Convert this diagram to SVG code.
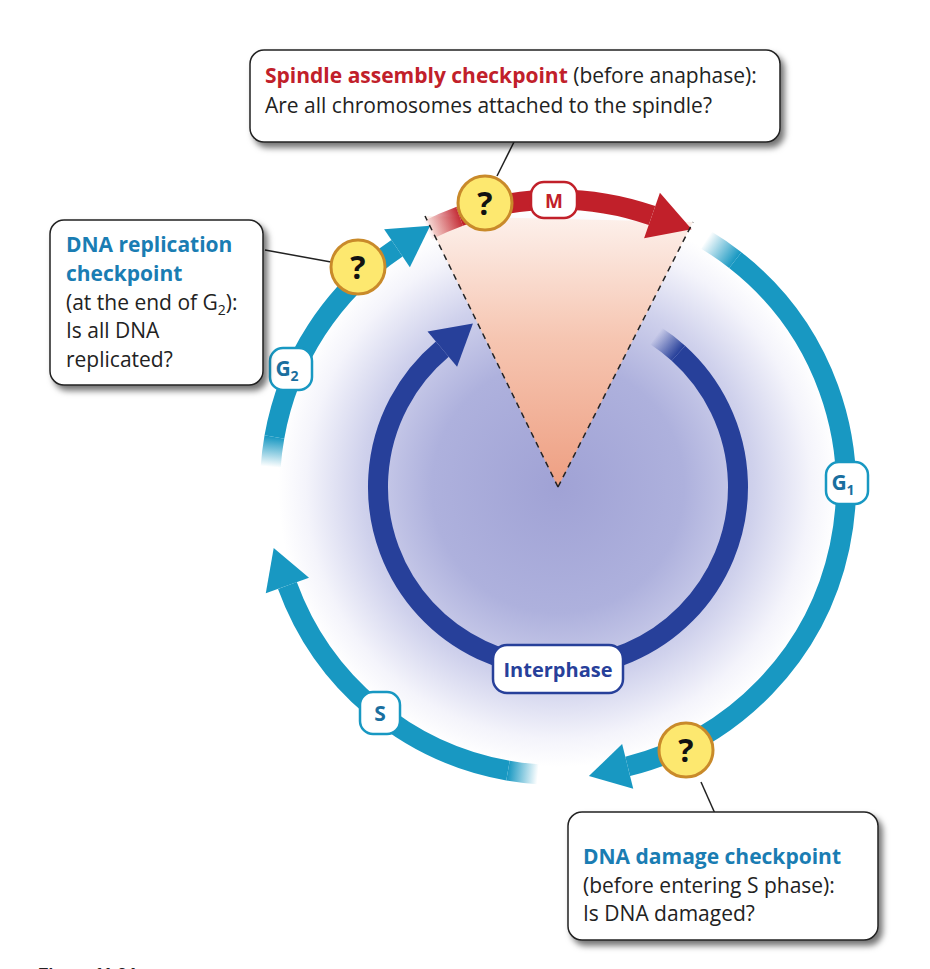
<svg xmlns="http://www.w3.org/2000/svg" width="930" height="969" viewBox="0 0 930 969">
<style>
text{font-family:"Open Sans","Liberation Sans",sans-serif;}
.t{font-size:21px;fill:#222;}
.b{font-weight:bold;}
.callout{fill:#fff;stroke:#222;stroke-width:1.5;filter:url(#sh);}
.lead{stroke:#222;stroke-width:1.5;fill:none;}
.q{fill:#fde86f;stroke:#c98a2a;stroke-width:3;}
.qt{font-size:32px;font-weight:bold;fill:#111;text-anchor:middle;}
.teal{fill:none;stroke:#1898c2;stroke-width:20;}
.lab{fill:#fff;stroke-width:2.5;}
</style>
<defs>
<filter id="sh" x="-10%" y="-10%" width="130%" height="140%"><feDropShadow dx="4" dy="5" stdDeviation="3" flood-opacity="0.55"/></filter>
<radialGradient id="bg" cx="558" cy="487" r="280" gradientUnits="userSpaceOnUse">
<stop offset="0" stop-color="#a0a2d5"/><stop offset="0.45" stop-color="#aeb1dd"/><stop offset="0.7" stop-color="#cfd1ec"/><stop offset="0.9" stop-color="#f4f4fb"/><stop offset="1" stop-color="#fff"/></radialGradient>
<linearGradient id="wedge" x1="0" y1="215" x2="0" y2="487" gradientUnits="userSpaceOnUse">
<stop offset="0" stop-color="#fdf1ec"/><stop offset="0.45" stop-color="#f6c6b2"/><stop offset="1" stop-color="#ee9f82"/></linearGradient>
<linearGradient id="fM" x1="427" y1="230" x2="462" y2="216" gradientUnits="userSpaceOnUse"><stop offset="0" stop-color="#c1202a" stop-opacity="0"/><stop offset="1" stop-color="#c1202a"/></linearGradient>
<linearGradient id="fG1" x1="706" y1="240" x2="735" y2="260" gradientUnits="userSpaceOnUse"><stop offset="0" stop-color="#1898c2" stop-opacity="0"/><stop offset="1" stop-color="#1898c2"/></linearGradient>
<linearGradient id="fS" x1="538" y1="774" x2="508" y2="771" gradientUnits="userSpaceOnUse"><stop offset="0" stop-color="#1898c2" stop-opacity="0"/><stop offset="1" stop-color="#1898c2"/></linearGradient>
<linearGradient id="fG2" x1="271" y1="467" x2="274" y2="437" gradientUnits="userSpaceOnUse"><stop offset="0" stop-color="#1898c2" stop-opacity="0"/><stop offset="1" stop-color="#1898c2"/></linearGradient>
<linearGradient id="fI" x1="656" y1="336" x2="678" y2="353" gradientUnits="userSpaceOnUse"><stop offset="0" stop-color="#27409a" stop-opacity="0"/><stop offset="1" stop-color="#27409a"/></linearGradient>
<marker id="aT" markerUnits="userSpaceOnUse" markerWidth="50" markerHeight="50" refX="0" refY="23" orient="auto" overflow="visible"><path d="M0,0 L40,23 L0,46 Z" fill="#1898c2"/></marker>
<marker id="aR" markerUnits="userSpaceOnUse" markerWidth="50" markerHeight="50" refX="0" refY="24" orient="auto" overflow="visible"><path d="M0,0 L42,24 L0,48 Z" fill="#c1202a"/></marker>
<marker id="aB" markerUnits="userSpaceOnUse" markerWidth="50" markerHeight="50" refX="0" refY="23" orient="auto" overflow="visible"><path d="M0,0 L40,23 L0,46 Z" fill="#27409a"/></marker>
</defs>
<rect width="930" height="969" fill="#fff"/>
<circle cx="558" cy="487" r="280" fill="url(#bg)"/>
<g id="wedge-region">
<polygon points="558,487 425,216 693,222" fill="url(#wedge)"/>
</g>
<g id="connectors">
<path d="M427.3,230.4 A288,288 0 0 1 459.5,216.4" fill="none" stroke="url(#fM)" stroke-width="20"/>
<path d="M459.5,216.4 A288,288 0 0 1 652,215.5" fill="none" stroke="#c1202a" stroke-width="20" marker-end="url(#aR)"/>
<path d="M706.3,240.1 A288,288 0 0 1 735.3,260.1" fill="none" stroke="url(#fG1)" stroke-width="20"/>
<path d="M735.3,260.1 A288,288 0 0 1 627.7,766.4" class="teal" marker-end="url(#aT)"/>
<path d="M537.9,774.3 A288,288 0 0 1 508,770.6" fill="none" stroke="url(#fS)" stroke-width="20"/>
<path d="M508,770.6 A288,288 0 0 1 287.4,585.5" class="teal" marker-end="url(#aT)"/>
<path d="M270.7,466.9 A288,288 0 0 1 274.4,437" fill="none" stroke="url(#fG2)" stroke-width="20"/>
<path d="M274.4,437 A288,288 0 0 1 397,248.2" class="teal" marker-end="url(#aT)"/>
<path d="M656,336 A180,180 0 0 1 678.4,353.2" fill="none" stroke="url(#fI)" stroke-width="20"/>
<path d="M678.4,353.2 A180,180 0 1 1 442.3,349.1" fill="none" stroke="#27409a" stroke-width="20" marker-end="url(#aB)"/>
<path d="M558,487 L425,216 M558,487 L693,222" stroke="#222" stroke-width="1.5" stroke-dasharray="6,5" fill="none"/>
<path class="lead" d="M515,140 L497,176"/>
<path class="lead" d="M265,250 L331,262"/>
<path class="lead" d="M701,782 L717,818"/>
</g>
<g id="label-M"><rect x="531" y="182" width="46" height="36" rx="13" class="lab" stroke="#c1202a"/><text x="554" y="208" text-anchor="middle" font-size="19" font-weight="bold" fill="#c1202a">M</text></g>
<g id="label-G1"><rect x="826" y="462" width="42" height="42" rx="13" class="lab" stroke="#1898c2"/><text x="843" y="490" text-anchor="middle" font-size="21" font-weight="bold" fill="#1a6f9f">G<tspan font-size="14" dy="5">1</tspan></text></g>
<g id="label-G2"><rect x="270" y="348" width="42" height="42" rx="13" class="lab" stroke="#1898c2"/><text x="287" y="376" text-anchor="middle" font-size="21" font-weight="bold" fill="#1a6f9f">G<tspan font-size="14" dy="5">2</tspan></text></g>
<g id="label-S"><rect x="360" y="692" width="40" height="42" rx="13" class="lab" stroke="#1898c2"/><text x="380" y="721" text-anchor="middle" font-size="21" font-weight="bold" fill="#1a6f9f">S</text></g>
<g id="label-interphase"><rect x="493" y="645" width="130" height="48" rx="14" class="lab" stroke="#27409a"/><text x="558" y="677" text-anchor="middle" font-size="20" font-weight="bold" fill="#27409a">Interphase</text></g>
<g id="q-spindle"><circle cx="485" cy="203" r="27" class="q"/><text x="485" y="215" class="qt">?</text></g>
<g id="q-replication"><circle cx="358" cy="267" r="27" class="q"/><text x="358" y="279" class="qt">?</text></g>
<g id="q-damage"><circle cx="686" cy="750" r="27" class="q"/><text x="686" y="762" class="qt">?</text></g>
<g id="callout-spindle">
<rect x="250" y="50" width="530" height="92" rx="14" class="callout"/>
<text x="265" y="83" class="t"><tspan class="b" fill="#c1202a">Spindle assembly checkpoint</tspan> (before anaphase):</text>
<text x="265" y="113" class="t">Are all chromosomes attached to the spindle?</text>
</g>
<g id="callout-replication">
<rect x="50" y="220" width="213" height="165" rx="14" class="callout"/>
<text x="66" y="252" class="t b" style="fill:#1a7db3">DNA replication</text>
<text x="66" y="281" class="t b" style="fill:#1a7db3">checkpoint</text>
<text x="66" y="310" class="t">(at the end of G<tspan font-size="14" dy="5">2</tspan><tspan dy="-5">):</tspan></text>
<text x="66" y="338" class="t">Is all DNA</text>
<text x="66" y="367" class="t">replicated?</text>
</g>
<g id="callout-damage">
<rect x="568" y="812" width="310" height="128" rx="14" class="callout"/>
<text x="583" y="864" class="t b" style="fill:#1a7db3">DNA damage checkpoint</text>
<text x="583" y="893" class="t">(before entering S phase):</text>
<text x="583" y="921" class="t">Is DNA damaged?</text>
</g>
<text x="38" y="980" font-size="17" font-weight="bold" fill="#222" style="font-family:'Liberation Sans',sans-serif">Figure 11.24</text>
</svg>
